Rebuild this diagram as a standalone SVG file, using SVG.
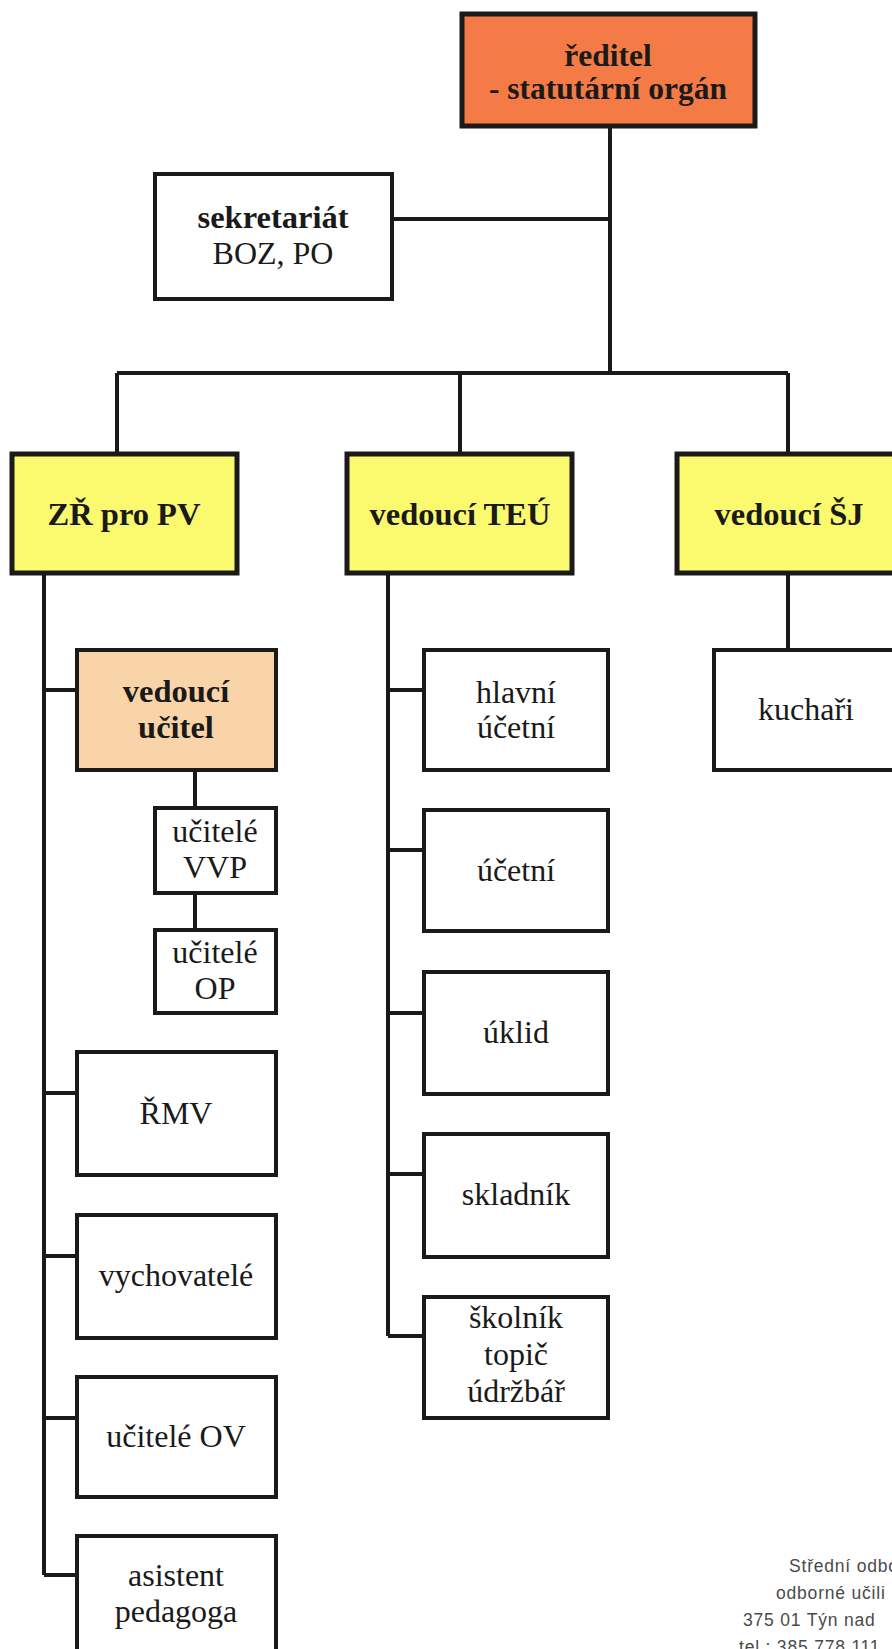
<svg xmlns="http://www.w3.org/2000/svg" width="892" height="1649" viewBox="0 0 892 1649">
<style>
  .box { fill: #ffffff; stroke: #1a1a1a; stroke-width: 4; }
  .main { stroke-width: 5; }
  .orange { fill: #F47B45; }
  .yellow { fill: #FBF96E; }
  .peach { fill: #F8D4A8; }
  .t { font-family: "Liberation Serif", "Times New Roman", serif; font-size: 32px; fill: #1a1a1a; text-anchor: middle; }
  .b { font-weight: bold; font-size: 32.5px; }
  .big { font-size: 31.5px; }
  .foot { font-family: "Liberation Sans", Arial, sans-serif; font-size: 17.5px; fill: #4a4a4a; letter-spacing: 0.8px; }
  .conn { fill: none; stroke: #1a1a1a; stroke-width: 4; }
</style>
<rect x="0" y="0" width="892" height="1649" fill="#ffffff"/>
<g id="connectors" class="conn">
  <path d="M610 126 V373"/>
  <path d="M392 219 H610"/>
  <path d="M117 373 H788"/>
  <path d="M117 373 V454"/>
  <path d="M460 373 V454"/>
  <path d="M788 373 V454"/>
  <path d="M44 573 V1575"/>
  <path d="M44 690 H77"/>
  <path d="M44 1093 H77"/>
  <path d="M44 1256 H77"/>
  <path d="M44 1418 H77"/>
  <path d="M44 1575 H77"/>
  <path d="M195 770 V808"/>
  <path d="M195 893 V930"/>
  <path d="M388 573 V1336"/>
  <path d="M388 690 H424"/>
  <path d="M388 850 H424"/>
  <path d="M388 1013 H424"/>
  <path d="M388 1174 H424"/>
  <path d="M388 1336 H424"/>
  <path d="M788 573 V650"/>
</g>
<g id="reditel">
  <rect class="box main orange" x="462" y="14" width="293" height="112"/>
  <text class="t b big" x="608" y="66">ředitel</text>
  <text class="t b big" x="608" y="99">- statutární orgán</text>
</g>
<g id="sekretariat">
  <rect class="box" x="155" y="174" width="237" height="125"/>
  <text class="t b" x="273" y="228">sekretariát</text>
  <text class="t" x="273" y="264">BOZ, PO</text>
</g>
<g id="zr-pro-pv">
  <rect class="box main yellow" x="12" y="454" width="225" height="119"/>
  <text class="t b" x="124" y="525">ZŘ pro PV</text>
</g>
<g id="vedouci-teu">
  <rect class="box main yellow" x="347" y="454" width="225" height="119"/>
  <text class="t b" x="460" y="525">vedoucí TEÚ</text>
</g>
<g id="vedouci-sj">
  <rect class="box main yellow" x="677" y="454" width="225" height="119"/>
  <text class="t b" x="789" y="525">vedoucí ŠJ</text>
</g>
<g id="vedouci-ucitel">
  <rect class="box peach" x="77" y="650" width="199" height="120"/>
  <text class="t b" x="176" y="702">vedoucí</text>
  <text class="t b" x="176" y="738">učitel</text>
</g>
<g id="ucitele-vvp">
  <rect class="box" x="155" y="808" width="121" height="85"/>
  <text class="t" x="215" y="842">učitelé</text>
  <text class="t" x="215" y="878">VVP</text>
</g>
<g id="ucitele-op">
  <rect class="box" x="155" y="930" width="121" height="83"/>
  <text class="t" x="215" y="963">učitelé</text>
  <text class="t" x="215" y="999">OP</text>
</g>
<g id="rmv">
  <rect class="box" x="77" y="1052" width="199" height="123"/>
  <text class="t" x="176" y="1124">ŘMV</text>
</g>
<g id="vychovatele">
  <rect class="box" x="77" y="1215" width="199" height="123"/>
  <text class="t" x="176" y="1286">vychovatelé</text>
</g>
<g id="ucitele-ov">
  <rect class="box" x="77" y="1377" width="199" height="120"/>
  <text class="t" x="176" y="1447">učitelé OV</text>
</g>
<g id="asistent">
  <rect class="box" x="77" y="1536" width="199" height="125"/>
  <text class="t" x="176" y="1586">asistent</text>
  <text class="t" x="176" y="1622">pedagoga</text>
</g>
<g id="hlavni-ucetni">
  <rect class="box" x="424" y="650" width="184" height="120"/>
  <text class="t" x="516" y="703">hlavní</text>
  <text class="t" x="516" y="738">účetní</text>
</g>
<g id="ucetni">
  <rect class="box" x="424" y="810" width="184" height="121"/>
  <text class="t" x="516" y="881">účetní</text>
</g>
<g id="uklid">
  <rect class="box" x="424" y="972" width="184" height="122"/>
  <text class="t" x="516" y="1043">úklid</text>
</g>
<g id="skladnik">
  <rect class="box" x="424" y="1134" width="184" height="123"/>
  <text class="t" x="516" y="1205">skladník</text>
</g>
<g id="skolnik">
  <rect class="box" x="424" y="1297" width="184" height="121"/>
  <text class="t" x="516" y="1328">školník</text>
  <text class="t" x="516" y="1365">topič</text>
  <text class="t" x="516" y="1402">údržbář</text>
</g>
<g id="kuchari">
  <rect class="box" x="714" y="650" width="184" height="120"/>
  <text class="t" x="806" y="720">kuchaři</text>
</g>
<g id="footer">
  <text class="foot" x="789" y="1572">Střední odbo</text>
  <text class="foot" x="776" y="1599">odborné učili</text>
  <text class="foot" x="743" y="1626">375 01 Týn nad</text>
  <text class="foot" x="739" y="1653">tel.: 385 778 111</text>
</g>
</svg>
